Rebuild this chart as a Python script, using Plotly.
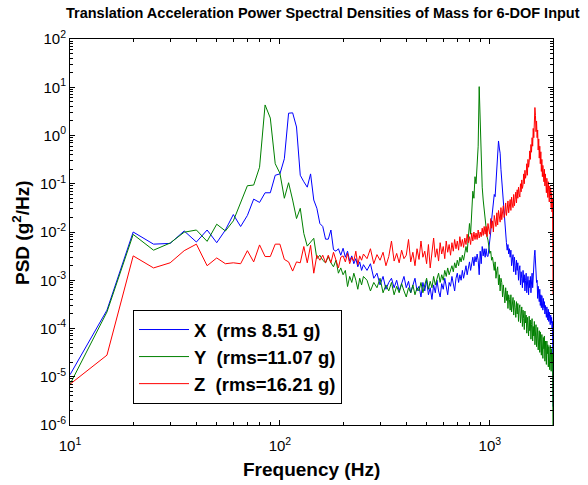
import plotly.graph_objects as go

# ---------------- data ----------------
freq_low = list(range(10, 251, 5))      # 10..250 Hz
freq_high = list(range(260, 2001, 10))  # 260..2000 Hz
freq = freq_low + freq_high

x_low = [1.1e-5, 2.4e-4, 1.0e-2, 5.6e-3, 5.8e-3, 1.05e-2, 6.2e-3, 1.1e-2, 6.0e-3, 1.1e-2,
         2.3e-2, 1.3e-2, 2.2e-2, 4.8e-2, 4.1e-2, 6.5e-2, 6.5e-2, 1.5e-1, 1.6e-1, 3.3e-1,
         2.9, 2.95, 1.5, 1.5e-1, 1.1e-1, 8.5e-2, 1.6e-1, 4.6e-2, 3.1e-2, 1.5e-2,
         1.3e-2, 7.1e-3, 7.1e-3, 1.1e-2, 4.3e-3, 4.0e-3, 4.5e-3, 3.3e-3, 4.6e-3, 3.0e-3,
         4.0e-3, 2.5e-3, 3.2e-3, 2.2e-3, 2.8e-3, 1.9e-3, 2.4e-3, 1.6e-3, 2.1e-3]
x_high = [1.6e-3, 2.2e-3, 1.1e-3, 1.4e-3, 8e-4, 1.2e-3, 6.5e-4, 9e-4, 1.1e-3, 7e-4,
          1.0e-3, 6e-4, 8.5e-4, 1.2e-3, 7e-4, 9.5e-4, 5.5e-4, 8e-4, 1.1e-3, 6e-4,
          7.5e-4, 4.5e-4, 9e-4, 6e-4, 1.0e-3, 5e-4, 7e-4, 4e-4, 8e-4, 5.5e-4,
          1.0e-3, 6e-4, 4.5e-4, 8.5e-4, 6.5e-4, 1.1e-3, 7e-4, 5e-4, 9e-4, 7.5e-4,
          1.2e-3, 8e-4, 6e-4, 1.1e-3, 1.4e-3, 9e-4, 1.3e-3, 1.0e-3, 1.6e-3, 1.1e-3,
          1.5e-3, 2.0e-3, 1.3e-3, 1.8e-3, 2.4e-3, 1.6e-3, 2.2e-3, 3.0e-3, 2.0e-3, 3.1e-3,
          2.4e-3, 3.5e-3, 2.6e-3, 1.3e-3, 4e-3, 2.2e-3, 5e-3, 3.2e-3, 4.5e-3, 3.0e-3,
          4.5e-3, 3.2e-3, 3.1e-3, 4.5e-3, 6e-3, 1.0e-2, 1.8e-2, 2.8e-2, 3.5e-2, 6e-2,
          5.4e-2, 1.2e-1, 2.7e-1, 4.5e-1, 7.7e-1, 5.5e-1, 4.3e-1, 2.0e-1, 1.2e-1, 5e-2,
          3.5e-2, 1.8e-2, 1.5e-2, 8e-3, 6e-3, 4.2e-3, 5.5e-3, 3.5e-3, 4.5e-3, 3.0e-3,
          4.2e-3, 2.0e-3, 2.8e-3, 3.4e-3, 1.5e-3, 3.0e-3, 2.0e-3, 1.3e-3, 2.6e-3, 1.6e-3,
          2.3e-3, 1.0e-3, 1.6e-3, 2.0e-3, 8e-4, 1.5e-3, 1.1e-3, 7e-4, 1.6e-3, 9e-4,
          1.3e-3, 6e-4, 1.0e-3, 1.4e-3, 5.5e-4, 9e-4, 1.2e-3, 5e-4, 1.0e-3, 7e-4,
          1.2e-3, 5.5e-4, 8e-4, 1.4e-3, 7e-4, 1.6e-3, 2.4e-3, 3.2e-3, 4.2e-3, 2.4e-3,
          1.9e-3, 9e-4, 1.0e-3, 4.2e-4, 7.5e-4, 5e-4, 3.6e-4, 6.5e-4, 3e-4, 5e-4,
          2.7e-4, 4.8e-4, 3.2e-4, 2.4e-4, 4.2e-4, 2.7e-4, 3.6e-4, 2.0e-4, 3.0e-4, 2.3e-4,
          1.7e-4, 2.8e-4, 2.0e-4, 1.5e-4, 2.5e-4, 1.4e-4, 2.2e-4, 1.6e-4, 1.2e-4, 1.9e-4,
          1.3e-4, 1.7e-4, 1.0e-4, 1.4e-4, 2.4e-6]

y_low = [7e-6, 2.2e-4, 8.9e-3, 4.2e-3, 5.9e-3, 9.9e-3, 1.1e-2, 6.4e-3, 1.45e-2, 1.05e-2,
         1.7e-2, 3.9e-2, 9.1e-2, 9.4e-2, 2.2e-1, 4.3, 2.3, 2.6e-1, 1.65e-1, 5e-2,
         1.05e-1, 4.6e-2, 1.9e-2, 3.1e-2, 9.3e-3, 5.1e-3, 6.3e-3, 7.4e-3, 2.8e-3, 3.3e-3,
         2.6e-3, 2.3e-3, 3.1e-3, 2.3e-3, 1.9e-3, 2.6e-3, 1.4e-3, 1.8e-3, 1.3e-3, 1.6e-3,
         7.4e-4, 1.2e-3, 9e-4, 1.4e-3, 1.0e-3, 6.5e-4, 1.1e-3, 8e-4, 1.2e-3]
y_high = [1.0e-3, 6e-4, 9e-4, 7e-4, 1.1e-3, 5.5e-4, 8e-4, 6e-4, 9e-4, 5e-4,
          7.5e-4, 5.5e-4, 8.5e-4, 6e-4, 4.5e-4, 7e-4, 5.5e-4, 8e-4, 5e-4, 7e-4,
          6e-4, 9e-4, 5.5e-4, 8e-4, 1.1e-3, 6.5e-4, 9.5e-4, 7e-4, 1.2e-3, 8e-4,
          1.1e-3, 1.4e-3, 9e-4, 1.3e-3, 1.0e-3, 1.6e-3, 1.2e-3, 1.8e-3, 1.3e-3, 1.7e-3,
          2.0e-3, 1.5e-3, 2.3e-3, 1.8e-3, 2.6e-3, 2.0e-3, 3.0e-3, 2.4e-3, 3.3e-3, 2.6e-3,
          3.5e-3, 5e-3, 3.8e-3, 6.8e-3, 1.5e-2, 9e-3, 3.5e-2, 7e-2, 5e-2, 1.4e-1,
          1.0e-1, 2.0e-1, 6.0e-1, 10.3, 1.5, 2.1e-1, 8.5e-2, 4.6e-2, 3.0e-2, 1.5e-2,
          1.2e-2, 8e-3, 6.8e-3, 5e-3, 3.6e-3, 4e-3, 2.6e-3, 3e-3, 2.2e-3, 1.6e-3,
          2.4e-3, 1.1e-3, 1.6e-3, 1.9e-3, 8e-4, 1.3e-3, 6e-4, 1.1e-3, 9e-4, 4.5e-4,
          8e-4, 5.5e-4, 3.4e-4, 7e-4, 3.8e-4, 6e-4, 2.6e-4, 5e-4, 4e-4, 2.4e-4,
          5e-4, 2.2e-4, 3.4e-4, 4.4e-4, 1.9e-4, 3.8e-4, 2.7e-4, 1.7e-4, 3.6e-4, 2.0e-4,
          3.3e-4, 1.4e-4, 2.6e-4, 3.1e-4, 1.3e-4, 2.2e-4, 2.8e-4, 1.1e-4, 2.4e-4, 1.6e-4,
          9.5e-5, 2.3e-4, 1.3e-4, 1.9e-4, 8e-5, 1.7e-4, 1.1e-4, 7e-5, 1.8e-4, 9e-5,
          1.5e-4, 6e-5, 1.2e-4, 1.6e-4, 5.5e-5, 1.1e-4, 7e-5, 1.4e-4, 4.6e-5, 1.0e-4,
          1.2e-4, 4.2e-5, 8e-5, 1.05e-4, 3.6e-5, 7e-5, 9e-5, 3.2e-5, 8.5e-5, 5e-5,
          2.8e-5, 7.5e-5, 4.5e-5, 2.4e-5, 6.5e-5, 3.8e-5, 7e-5, 2.1e-5, 5.5e-5, 3.2e-5,
          1.8e-5, 5.5e-5, 3e-5, 4.6e-5, 1.6e-5, 4.2e-5, 2.5e-5, 1.4e-5, 4.5e-5, 2.2e-5,
          1.3e-5, 3.8e-5, 1.9e-5, 3.0e-5, 5e-7]

z_low = [7e-6, 2.8e-5, 3.2e-3, 1.8e-3, 2.3e-3, 4.1e-3, 5.6e-3, 2.0e-3, 2.9e-3, 2.2e-3,
         2.3e-3, 2.2e-3, 4.1e-3, 2.4e-3, 5.4e-3, 3.1e-3, 3.1e-3, 5.6e-3, 5.6e-3, 2.7e-3,
         2.4e-3, 1.55e-3, 2.4e-3, 2.3e-3, 5e-3, 2.3e-3, 5.3e-3, 1.4e-3, 3.3e-3, 2.6e-3,
         3.3e-3, 2.3e-3, 3.3e-3, 2.3e-3, 3.8e-3, 2.6e-3, 1.8e-3, 3.0e-3, 3.2e-3, 2.4e-3,
         3.6e-3, 2.2e-3, 3.0e-3, 2.5e-3, 4.0e-3, 2.1e-3, 3.2e-3, 2.6e-3, 3.5e-3]
z_high = [2.8e-3, 4.5e-3, 2.2e-3, 3.4e-3, 2.6e-3, 3.8e-3, 2.0e-3, 3.1e-3, 6.5e-3, 2.5e-3,
          3.6e-3, 2.3e-3, 4.2e-3, 2.8e-3, 3.3e-3, 7e-3, 2.4e-3, 3.8e-3, 2.0e-3, 4.5e-3,
          2.7e-3, 6.5e-3, 3.0e-3, 4.0e-3, 2.2e-3, 5.5e-3, 1.8e-3, 3.5e-3, 7.5e-3, 3.0e-3,
          4.5e-3, 2.5e-3, 6e-3, 3.5e-3, 5e-3, 2.8e-3, 6.5e-3, 3.8e-3, 5.5e-3, 3.3e-3,
          6e-3, 4e-3, 7e-3, 4.5e-3, 6.5e-3, 4.2e-3, 8e-3, 5e-3, 7e-3, 4.8e-3,
          7.5e-3, 5.5e-3, 9e-3, 6e-3, 8e-3, 5.5e-3, 9.5e-3, 6.5e-3, 1.0e-2, 7e-3,
          9.5e-3, 7e-3, 1.1e-2, 7.5e-3, 1.0e-2, 8e-3, 1.2e-2, 8.5e-3, 1.3e-2, 9e-3,
          1.3e-2, 8e-3, 1.5e-2, 1.1e-2, 9e-3, 1.9e-2, 1.2e-2, 1.7e-2, 1.0e-2, 2.2e-2,
          1.5e-2, 1.3e-2, 2.5e-2, 1.4e-2, 2.8e-2, 2.0e-2, 1.6e-2, 3.2e-2, 1.8e-2, 2.6e-2,
          3.5e-2, 2.0e-2, 2.4e-2, 4.0e-2, 2.2e-2, 3.0e-2, 4.4e-2, 2.5e-2, 3.6e-2, 4.7e-2,
          2.8e-2, 5.3e-2, 3.8e-2, 3.2e-2, 6.0e-2, 3.5e-2, 4.8e-2, 6.7e-2, 4.0e-2, 7.5e-2,
          5.0e-2, 8.5e-2, 6.2e-2, 5.3e-2, 1.0e-1, 6.8e-2, 1.2e-1, 8e-2, 9.5e-2, 1.6e-1,
          1.0e-1, 1.9e-1, 1.3e-1, 1.6e-1, 2.6e-1, 1.5e-1, 3.2e-1, 2.2e-1, 2.8e-1, 4.8e-1,
          3.2e-1, 6.5e-1, 4.5e-1, 9e-1, 6e-1, 1.4, 9e-1, 2.2, 3.8, 2.6,
          1.2, 2.0, 9e-1, 1.3, 5e-1, 8.5e-1, 3.4e-1, 6e-1, 2.6e-1, 4.6e-1,
          1.8e-1, 3.2e-1, 1.4e-1, 2.4e-1, 1.6e-1, 1.1e-1, 2.0e-1, 9e-2, 1.6e-1, 1.2e-1,
          6.5e-2, 1.3e-1, 8e-2, 5.2e-2, 1.1e-1, 6.5e-2, 4.2e-2, 9e-2, 5.5e-2, 8e-2,
          3.2e-2, 6.5e-2, 2.6e-2, 5e-2, 5e-4]

psd_x = x_low + x_high
psd_y = y_low + y_high
psd_z = z_low + z_high
assert len(psd_x) == len(freq) and len(psd_y) == len(freq) and len(psd_z) == len(freq), (len(freq), len(psd_x), len(psd_y), len(psd_z))

series_names = ["<b>X\u00a0\u00a0(rms 8.51 g)</b>", "<b>Y\u00a0\u00a0(rms=11.07 g)</b>", "<b>Z\u00a0\u00a0(rms=16.21 g)</b>"]
series_colors = ["#0000ff", "#008000", "#ff0000"]

x_tickvals = [10, 100, 1000]
x_ticktext = ["10<sup>1</sup>", "10<sup>2</sup>", "10<sup>3</sup>"]
y_tickvals = [1e2, 1e1, 1e0, 1e-1, 1e-2, 1e-3, 1e-4, 1e-5, 1e-6]
y_ticktext = ["10<sup>2</sup>", "10<sup>1</sup>", "10<sup>0</sup>", "10<sup>-1</sup>", "10<sup>-2</sup>",
              "10<sup>-3</sup>", "10<sup>-4</sup>", "10<sup>-5</sup>", "10<sup>-6</sup>"]

title_text = "<b>Translation Acceleration Power Spectral Densities of Mass for 6-DOF Input</b>"
x_title = "<b>Frequency (Hz)</b>"
y_title = "<b>PSD (g<sup>2</sup>/Hz)</b>"

FONT = "Arial, 'Liberation Sans', sans-serif"

# ---------------- figure ----------------
fig = go.Figure()
for vals, name, col in zip([psd_x, psd_y, psd_z], series_names, series_colors):
    fig.add_trace(go.Scatter(x=freq, y=vals, mode="lines", name=name,
                             line=dict(color=col, width=1), legendgroup=name))

x_minor = [m * 10 ** d for d in range(1, 4) for m in range(2, 10) if m * 10 ** d <= 2000]
y_minor = [m * 10.0 ** d for d in range(-6, 2) for m in range(2, 10)]

axis_common = dict(showline=True, linecolor="black", linewidth=1, mirror="ticks",
                   ticks="inside", ticklen=5, tickcolor="black", showgrid=False,
                   zeroline=False, tickfont=dict(family=FONT, size=15, color="black"))

fig.update_xaxes(type="log", range=[1, 3.30103], tickvals=x_tickvals, ticktext=x_ticktext,
                 ticklabelstandoff=7,
                 minor=dict(tickvals=x_minor, ticks="inside", ticklen=3, tickcolor="black", showgrid=False),
                 **axis_common)
fig.update_yaxes(type="log", range=[-6, 2], tickvals=y_tickvals, ticktext=y_ticktext,
                 minor=dict(tickvals=y_minor, ticks="inside", ticklen=3, tickcolor="black", showgrid=False),
                 **axis_common)

W, H = 588, 485
L, R, T, B = 70, 35, 39, 60
pw, ph = W - L - R, H - T - B

def px(xp):
    return (xp - L) / pw

def py(yp):
    return 1 - (yp - T) / ph

fig.update_layout(
    width=W, height=H,
    margin=dict(l=L, r=R, t=T, b=B, pad=0),
    paper_bgcolor="white", plot_bgcolor="white",
    font=dict(family=FONT, color="black"),
    showlegend=True,
    legend=dict(x=px(133), y=py(310), xanchor="left", yanchor="top",
                bordercolor="black", borderwidth=1, bgcolor="white",
                font=dict(family=FONT, size=18.5, color="black"),
                tracegroupgap=0, itemwidth=50),
    annotations=[
        dict(text=title_text, x=px(64), y=py(13), xref="paper", yref="paper",
             xanchor="left", yanchor="middle", showarrow=False,
             font=dict(family=FONT, size=14.5, color="black")),
        dict(text=x_title, x=px(311), y=py(469), xref="paper", yref="paper",
             xanchor="center", yanchor="middle", showarrow=False,
             font=dict(family=FONT, size=19, color="black")),
        dict(text=y_title, x=px(21), y=py(233), xref="paper", yref="paper",
             xanchor="center", yanchor="middle", showarrow=False, textangle=-90,
             font=dict(family=FONT, size=19, color="black")),
    ],
)

fig.write_html("out.html", config={"displayModeBar": False},
               post_script="document.body.style.margin='0px';")
